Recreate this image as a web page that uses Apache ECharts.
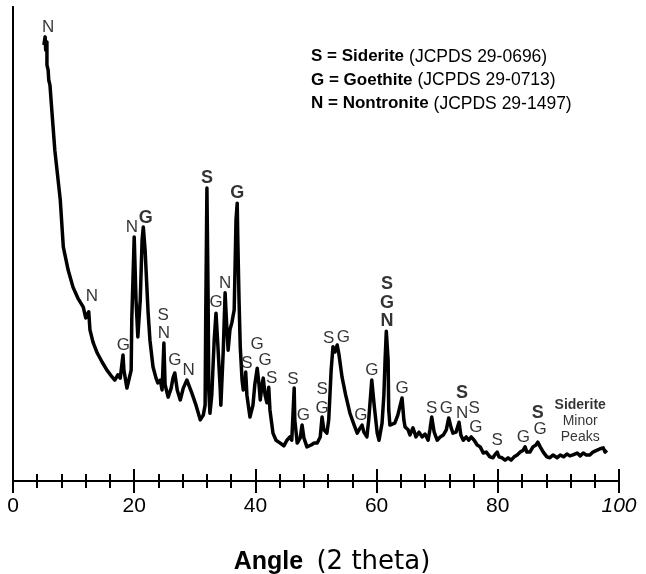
<!DOCTYPE html>
<html>
<head>
<meta charset="utf-8">
<script src="https://cdn.jsdelivr.net/npm/echarts@6/dist/echarts.min.js"></script>
<style>html,body{margin:0;padding:0;background:#fff}#c{width:646px;height:574px}</style>
</head>
<body>
<div id="c"></div>
<script>
// XRD pattern: angle (2 theta) and relative intensity (0-100)
var angles = [5.1,5.3,5.4,5.6,5.6,5.8,5.9,6.1,6.4,6.9,7.8,8.3,9.1,9.9,10.7,11.6,12.0,12.5,12.7,13.2,13.9,14.7,15.5,16.2,16.8,17.3,17.7,18.15,18.3,18.8,19.1,19.5,19.6,20.0,20.3,20.6,21.0,21.3,21.5,21.8,22.3,22.6,23.1,23.6,23.9,24.3,24.6,24.9,25.1,25.6,26.1,26.4,26.7,27.1,27.6,28.1,28.7,29.2,29.5,30.2,30.9,31.4,31.7,31.8,32.0,32.2,32.3,32.5,32.8,33.2,33.5,33.8,34.2,34.3,34.7,35.0,35.3,35.5,35.8,36.1,36.5,36.6,36.8,37.0,37.1,37.3,37.5,37.8,38.0,38.3,38.4,38.6,39.1,39.6,39.9,40.3,40.6,40.8,41.1,41.3,41.6,41.9,42.2,42.4,42.9,43.4,44.1,44.7,45.2,45.7,46.0,46.4,46.5,46.9,47.4,47.7,48.0,48.5,49.2,49.7,50.2,50.7,51.0,51.3,51.8,52.1,52.5,52.8,53.1,53.5,53.8,54.3,54.9,55.6,56.3,56.8,57.3,57.6,57.9,58.4,58.7,59.2,59.6,60.1,60.4,60.9,61.2,61.4,61.6,61.7,61.9,62.0,62.2,62.5,63.0,63.5,63.9,64.2,64.5,64.7,65.2,65.5,66.0,66.5,67.0,67.5,68.0,68.5,68.8,69.1,69.5,70.0,70.5,71.0,71.5,71.9,72.3,72.6,73.1,73.6,73.9,74.3,74.8,75.2,75.6,76.1,76.6,77.1,77.6,78.1,78.7,79.2,79.5,79.9,80.2,80.7,81.2,81.7,82.2,82.7,83.2,83.7,84.2,84.5,84.8,85.3,85.8,86.3,86.6,87.0,87.5,88.1,88.6,89.1,89.8,90.3,90.9,91.4,91.9,92.4,93.1,93.6,94.1,94.6,95.2,95.7,96.4,96.9,97.4,97.7,98.0];
var intensity = [92.0,93.7,90.9,92.6,87.8,86.7,84.6,83.5,78.3,69.8,59.3,49.4,44.5,40.9,38.6,36.7,34.4,35.7,31.9,29.3,27.0,25.1,23.4,22.2,21.3,22.4,21.7,26.6,23.4,19.6,19.2,23.4,34.0,51.5,38.2,30.4,38.2,50.8,53.6,48.7,35.4,29.7,24.1,21.7,20.7,21.3,19.2,29.1,20.3,17.7,19.6,21.7,22.8,19.2,17.1,19.6,21.3,19.6,18.6,16.0,12.9,13.9,16.0,34.0,61.8,38.2,19.2,14.3,18.1,29.7,35.4,28.7,19.2,16.0,27.6,39.7,31.9,27.6,31.9,33.3,36.1,42.4,55.1,58.6,50.8,38.2,28.3,21.3,19.2,20.3,23.0,18.1,13.5,16.0,20.3,23.8,20.3,17.1,20.3,21.7,18.1,16.5,19.8,15.0,10.1,8.6,8.0,7.4,8.6,9.3,8.6,19.6,12.9,8.0,9.1,11.8,9.1,7.2,7.6,8.0,8.0,9.3,13.5,10.8,10.1,12.9,23.4,28.3,27.2,28.7,26.6,21.9,18.1,14.3,11.8,10.1,11.2,11.8,10.3,9.3,12.9,21.3,16.0,10.1,8.6,12.2,18.1,25.5,31.6,31.9,25.5,15.0,11.8,11.8,12.2,13.9,16.0,17.5,12.9,11.4,10.8,9.7,11.2,9.3,10.3,9.3,9.9,8.6,10.8,13.5,10.3,8.6,9.3,9.7,10.8,13.3,11.2,10.1,10.3,12.4,9.7,8.6,9.3,8.6,9.3,8.6,7.6,7.2,5.9,6.1,5.1,4.9,5.5,6.1,5.1,4.9,4.4,4.9,4.4,5.1,5.5,6.1,6.5,7.2,6.1,6.1,7.2,7.6,8.2,7.2,6.1,5.1,4.9,5.5,4.9,5.5,5.1,5.7,5.3,5.5,5.9,5.3,5.9,5.5,5.5,6.1,6.5,6.8,7.0,6.1,6.5];

// Peak annotations: letter, angle, height, bold
var peakLetters = ['N','N','G','N','G','S','N','G','N','S','G','N','G','S','G','G','S','S','G','S','G','S','G','G','G','S','G','N','G','S','G','S','N','S','G','S','G','S','G'];
var peakAngles  = [5.8,13.0,18.2,19.6,21.9,24.8,24.9,26.7,29.0,32.0,33.5,35.0,37.0,38.6,40.3,41.6,42.7,46.2,47.9,51.0,51.0,52.1,54.5,57.4,59.2,61.7,61.7,61.7,64.2,69.1,71.5,74.1,74.1,76.1,76.4,79.9,84.2,86.6,87.0];
var peakHeights = [95.8,39.0,28.7,53.6,55.5,35.0,31.2,25.5,23.4,63.9,37.6,41.8,60.8,24.9,28.9,25.5,21.7,21.5,13.9,19.4,15.4,30.2,30.4,13.9,23.4,41.6,37.6,33.8,19.6,15.4,15.4,18.6,14.3,15.4,11.4,8.6,9.3,14.3,10.8];
var peakBold    = [0,0,0,0,1,0,0,0,0,1,0,0,1,0,0,0,0,0,0,0,0,0,0,0,0,1,1,1,0,0,0,1,0,0,0,0,0,1,0];

var xTicks = [0,20,40,60,80,100];

var lineData = angles.map(function(a,i){return [a,intensity[i]];});
var labelData = peakLetters.map(function(t,i){
  return {value:[peakAngles[i],peakHeights[i],t],
    label:{fontWeight: peakBold[i] ? 'bold' : 'normal', fontSize: peakBold[i] ? 18 : 17}};
});

var chart = echarts.init(document.getElementById('c'), null, {renderer:'canvas'});
var FONT = 'Liberation Sans, Arial, sans-serif';
chart.setOption({
  animation:false,
  backgroundColor:'#fff',
  grid:{left:13,right:27,top:7,bottom:93,containLabel:false,outerBoundsMode:'none'},
  title:{
    left:306, top:40,
    text:'{b|S = Siderite} {r|(JCPDS 29-0696)}\n{b|G = Goethite} {r|(JCPDS 29-0713)}\n{b|N = Nontronite} {r|(JCPDS 29-1497)}',
    textStyle:{fontFamily:FONT,fontWeight:'normal',lineHeight:23.5,
      rich:{b:{fontWeight:'bold',fontSize:17,fontFamily:FONT,color:'#000',lineHeight:23.5},
            r:{fontWeight:'normal',fontSize:17.5,fontFamily:FONT,color:'#000',lineHeight:23.5}}}
  },
  xAxis:[{
    type:'value',min:0,max:100,interval:20,position:'bottom',
    axisLine:{show:true,lineStyle:{color:'#000',width:2}},
    axisTick:{show:true,inside:true,length:12,lineStyle:{color:'#000',width:2}},
    minorTick:{show:true,splitNumber:5,length:7,lineStyle:{color:'#000',width:2}},
    splitLine:{show:false},
    axisLabel:{margin:15,fontSize:21,color:'#000',fontFamily:FONT,
      formatter:function(v){return v===100 ? '{i|100}' : String(v);},
      rich:{i:{fontStyle:'italic',fontSize:21,color:'#000',fontFamily:FONT}}},
    name:'{b|Angle}  {r|(2 theta)}',nameLocation:'middle',nameGap:68,
    nameTextStyle:{fontSize:24,color:'#000',fontFamily:FONT,padding:[0,0,0,32],
      rich:{b:{fontWeight:'bold',fontSize:25,color:'#000',fontFamily:FONT},
            r:{fontSize:26,color:'#000',fontFamily:'DejaVu Sans, sans-serif'}}}
  },{
    type:'value',min:0,max:100,interval:20,position:'top',
    axisLine:{show:true,lineStyle:{color:'#000',width:2}},
    axisTick:{show:true,inside:true,length:12,lineStyle:{color:'#000',width:2}},
    minorTick:{show:true,splitNumber:5,length:7,lineStyle:{color:'#000',width:2}},
    splitLine:{show:false},axisLabel:{show:false}
  }],
  yAxis:[{
    type:'value',min:0,max:100,position:'left',
    axisLine:{show:true,lineStyle:{color:'#000',width:2}},
    axisTick:{show:false},axisLabel:{show:false},splitLine:{show:false}
  },{
    type:'value',min:0,max:100,position:'right',
    axisLine:{show:true,lineStyle:{color:'#000',width:2}},
    axisTick:{show:false},axisLabel:{show:false},splitLine:{show:false}
  }],
  series:[{
    type:'line',data:lineData,showSymbol:false,symbol:'none',
    lineStyle:{color:'#000',width:3.5,join:'round'},z:3
  },{
    type:'scatter',data:labelData,symbolSize:0,z:4,
    label:{show:true,position:'inside',color:'#000',fontFamily:FONT,fontSize:17,
      formatter:function(p){return p.value[2];}}
  },{
    type:'scatter',symbolSize:0,z:4,
    data:[{value:[93.6,12.7]}],
    label:{show:true,position:'inside',color:'#000',fontFamily:FONT,fontSize:14,lineHeight:16,
      formatter:'{b|Siderite}\nMinor\nPeaks',rich:{b:{fontWeight:'bold',fontSize:14,lineHeight:16,color:'#000',fontFamily:FONT}}}
  }]
});
</script>
</body>
</html>
